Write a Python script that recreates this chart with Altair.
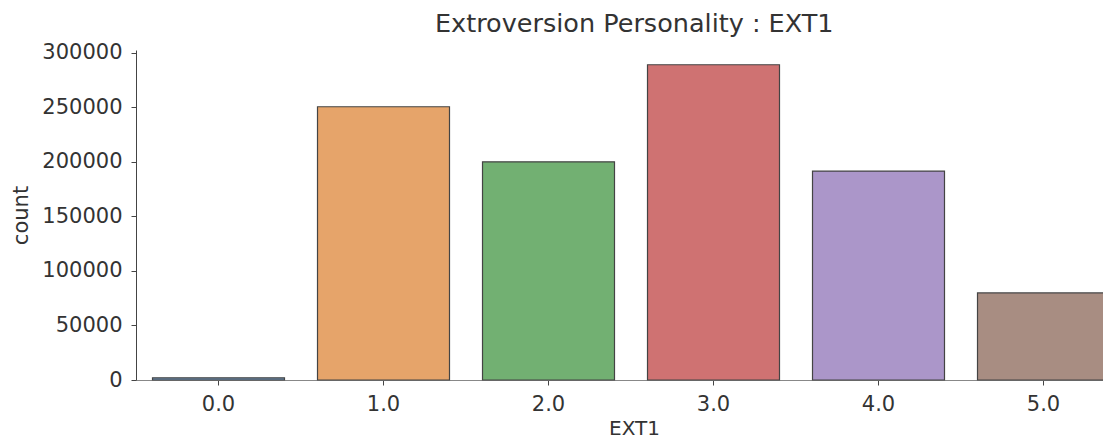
import altair as alt
import pandas as pd

categories = ["0.0", "1.0", "2.0", "3.0", "4.0", "5.0"]
counts = [2000, 250500, 200000, 289000, 191500, 79800]
colors = ["#6f93b8", "#e6a46a", "#72b072", "#cf7272", "#ab96c9", "#a88d82"]
y_ticks = [0, 50000, 100000, 150000, 200000, 250000, 300000]

df = pd.DataFrame({"EXT1": categories, "count": counts})

FONT = "DejaVu Sans"

chart = alt.Chart(df).mark_bar(
    stroke="#444444", strokeWidth=1.2
).encode(
    x=alt.X("EXT1:N", sort=categories,
            scale=alt.Scale(paddingInner=0.2, paddingOuter=0.1, range=[0, 990]),
            axis=alt.Axis(title="EXT1", labelAngle=0, labelFontSize=21,
                          titleFontSize=20, titleFontWeight="normal",
                          labelColor="#333333",
                          titleColor="#333333", domainColor="#888888",
                          tickColor="#444444", tickSize=5, labelPadding=8,
                          titlePadding=4, labelFont=FONT, titleFont=FONT,
                          titleX=498)),
    y=alt.Y("count:Q", scale=alt.Scale(domain=[0, 302500], nice=False),
            axis=alt.Axis(title="count", values=y_ticks, format="d",
                          labelFontSize=21, titleFontSize=21,
                          titleFontWeight="normal",
                          labelColor="#333333", titleColor="#333333",
                          domainColor="#444444", tickColor="#444444",
                          tickSize=5, grid=False, labelPadding=9,
                          titlePadding=10, labelFont=FONT, titleFont=FONT)),
    color=alt.Color("EXT1:N", sort=categories,
                    scale=alt.Scale(domain=categories, range=colors),
                    legend=None),
).properties(
    width=967,
    height=330,
    title=alt.TitleParams("Extroversion Personality : EXT1", fontSize=25.5,
                          font=FONT, fontWeight="normal", color="#333333",
                          offset=4, anchor="start", frame="group", dx=299),
    autosize=alt.AutoSizeParams(type="none"),
    padding={"left": 128, "top": 42, "right": 0, "bottom": 57},
).configure_view(stroke=None)

chart.save("out.html", embed_options={"renderer": "svg", "actions": False})
